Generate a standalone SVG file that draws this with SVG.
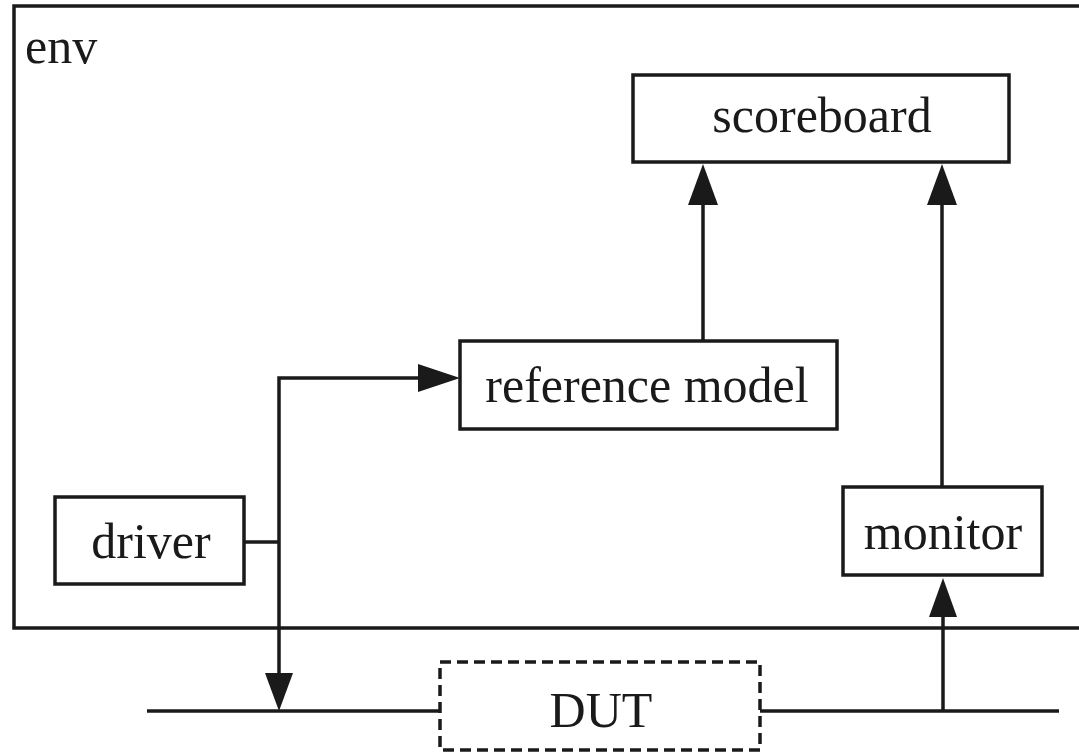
<svg xmlns="http://www.w3.org/2000/svg" width="1079" height="753" viewBox="0 0 1079 753">
<style>
.box{fill:#fff;stroke:#1a1a1a;stroke-width:3.5}
.dash{fill:#fff;stroke:#1a1a1a;stroke-width:3.5;stroke-dasharray:11 6}
.ln{fill:none;stroke:#1a1a1a;stroke-width:3.5}
.t{font-family:"Liberation Serif","Times New Roman",serif;font-size:50px;fill:#1a1a1a;text-anchor:middle}
.ah{fill:#1a1a1a}
</style>
<rect width="1079" height="753" fill="#fff"/>
<g id="env">
<rect x="14" y="6" width="1080" height="622" class="box"/>
<text x="25" y="63" class="t" style="text-anchor:start">env</text>
</g>
<g id="connectors">
<line x1="703" y1="341" x2="703" y2="200" class="ln"/>
<polygon class="ah" points="703,164 688,205 718,205"/>
<line x1="942" y1="487" x2="942" y2="200" class="ln"/>
<polygon class="ah" points="942,164 927,205 957,205"/>
<polyline points="244,542 279,542" class="ln"/>
<polyline points="420,378 279,378 279,676" class="ln"/>
<polygon class="ah" points="460,378 418,364 418,392"/>
<polygon class="ah" points="279,711 265,673 293,673"/>
<line x1="147" y1="711" x2="440" y2="711" class="ln"/>
<line x1="760" y1="711" x2="1059" y2="711" class="ln"/>
<line x1="943" y1="711" x2="943" y2="612" class="ln"/>
<polygon class="ah" points="943,578 929,617 957,617"/>
</g>
<g id="scoreboard">
<rect x="633" y="75" width="376" height="87" class="box"/>
<text x="822" y="132" class="t">scoreboard</text>
</g>
<g id="reference-model">
<rect x="460" y="341" width="377" height="88" class="box"/>
<text x="647" y="402" class="t">reference model</text>
</g>
<g id="driver">
<rect x="55" y="497" width="189" height="87" class="box"/>
<text x="151" y="558" class="t">driver</text>
</g>
<g id="monitor">
<rect x="843" y="487" width="199" height="88" class="box"/>
<text x="943" y="549" class="t">monitor</text>
</g>
<g id="dut">
<rect x="440" y="662" width="320" height="88" class="dash"/>
<text x="601" y="727" class="t">DUT</text>
</g>
</svg>
